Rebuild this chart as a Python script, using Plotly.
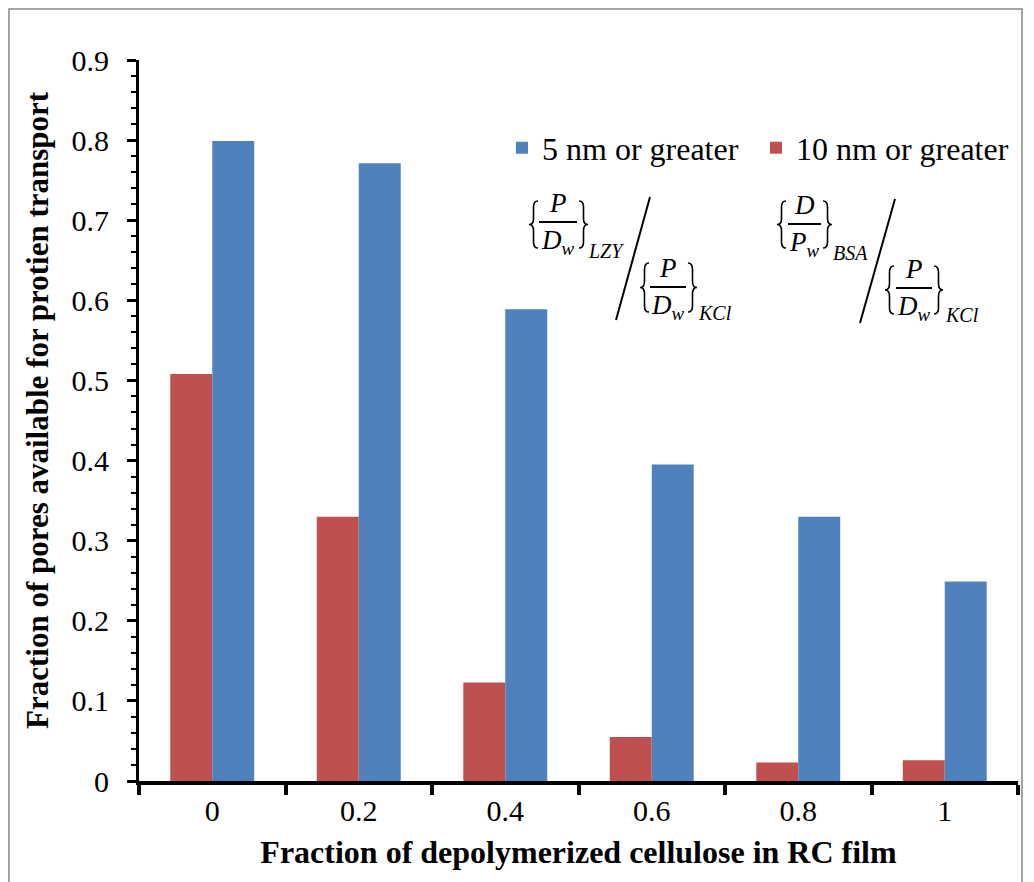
import plotly.graph_objects as go

categories = ["0", "0.2", "0.4", "0.6", "0.8", "1"]
pores_5nm = [0.799, 0.771, 0.589, 0.395, 0.330, 0.249]
pores_10nm = [0.508, 0.330, 0.123, 0.055, 0.023, 0.026]

OFF = 8  # page body margin
W, H = 1034 - OFF, 882 - OFF
L, T = 139 - OFF, 60 - OFF
PW, PH = 1018 - 139, 781 - 60
R, B = W - L - PW, H - T - PH

def px(x):
    return (x - OFF - L) / PW

def py(y):
    return (H - B - (y - OFF)) / PH

fig = go.Figure()
fig.add_trace(go.Bar(x=categories, y=pores_10nm, name="10 nm or greater",
                     marker=dict(color="#C0504D", line=dict(width=0))))
fig.add_trace(go.Bar(x=categories, y=pores_5nm, name="5 nm or greater",
                     marker=dict(color="#4F81BD", line=dict(width=0))))

serif = "Liberation Serif"

fig.update_layout(
    width=W, height=H,
    margin=dict(l=L, r=R, t=T, b=B, autoexpand=False),
    paper_bgcolor="white", plot_bgcolor="white",
    barmode="group", bargap=0.427, bargroupgap=0,
    font=dict(family=serif, size=26, color="black"),
    showlegend=True,
    legend=dict(orientation="h", x=px(502), y=py(148), xanchor="left", yanchor="middle",
                traceorder="reversed", font=dict(size=32, family=serif),
                bgcolor="rgba(0,0,0,0)", itemwidth=30,
                entrywidth=209, entrywidthmode="pixels"),
    xaxis=dict(type="category", showline=True, linewidth=4, linecolor="black",
               ticks="outside", tickson="boundaries", ticklen=10, tickwidth=4, tickcolor="black",
               showgrid=False, zeroline=False, automargin=False,
               tickfont=dict(size=30, family=serif),
               title=dict(text="<b>Fraction of depolymerized cellulose in RC film</b>",
                          font=dict(size=32, family=serif), standoff=16)),
    yaxis=dict(range=[0, 0.9], dtick=0.1, showline=True, linewidth=3, linecolor="black",
               ticks="outside", ticklen=9, tickwidth=3, tickcolor="black",
               minor=dict(dtick=0.02, ticks="outside", ticklen=5, tickwidth=2, tickcolor="black"),
               showgrid=False, zeroline=False, ticklabelstandoff=12, automargin=False,
               tickfont=dict(size=30, family=serif)),
)

# y-axis title (placed as rotated text to match the reference's vertical centring)
fig.add_annotation(x=px(37), y=py(410), xref="paper", yref="paper",
                   xanchor="center", yanchor="middle", showarrow=False, textangle=-90,
                   text="<b>Fraction of pores available for protien transport</b>",
                   font=dict(size=31, family=serif))

# outer border
fig.add_shape(type="rect", xref="paper", yref="paper",
              x0=px(9), x1=px(1022), y0=py(1000), y1=py(9),
              line=dict(color="#888888", width=1.5), fillcolor="rgba(0,0,0,0)", layer="below")

def brace_path(xl, xr, top, bot, left=True):
    xm = (xl + xr) / 2.0
    mid = (top + bot) / 2.0
    d = (bot - top) * 0.13
    tip, end = (xl, xr) if left else (xr, xl)
    pts = [
        ("M", [(end, top)]),
        ("Q", [(xm, top), (xm, top + d)]),
        ("L", [(xm, mid - d)]),
        ("Q", [(xm, mid), (tip, mid)]),
        ("Q", [(xm, mid), (xm, mid + d)]),
        ("L", [(xm, bot - d)]),
        ("Q", [(xm, bot), (end, bot)]),
    ]
    s = ""
    for cmd, pl in pts:
        s += cmd + " " + " ".join("%.5f,%.5f" % (px(a), py(b)) for a, b in pl) + " "
    return s.strip()

mfont = "Liberation Serif"

def frac(xl, top, bot, bar_y, bar_x0, bar_x1, num, den, den_sub, sub, sub_x, sub_y):
    fig.add_shape(type="path", xref="paper", yref="paper",
                  path=brace_path(xl, xl + 9, top, bot, True),
                  line=dict(color="black", width=1.6), fillcolor="rgba(0,0,0,0)")
    fig.add_shape(type="path", xref="paper", yref="paper",
                  path=brace_path(bar_x1 + 2, bar_x1 + 11, top, bot, False),
                  line=dict(color="black", width=1.6), fillcolor="rgba(0,0,0,0)")
    fig.add_shape(type="line", xref="paper", yref="paper",
                  x0=px(bar_x0), x1=px(bar_x1), y0=py(bar_y), y1=py(bar_y),
                  line=dict(color="black", width=2))
    cx = (bar_x0 + bar_x1) / 2.0
    fig.add_annotation(x=px(cx), y=py(bar_y - 2), xref="paper", yref="paper",
                       xanchor="center", yanchor="bottom", showarrow=False,
                       text="<i>%s</i>" % num, font=dict(size=27, family=mfont))
    fig.add_annotation(x=px(cx), y=py(bar_y + 1), xref="paper", yref="paper",
                       xanchor="center", yanchor="top", showarrow=False,
                       text="<i>%s</i><sub><i>%s</i></sub>" % (den, den_sub),
                       font=dict(size=27, family=mfont))
    fig.add_annotation(x=px(sub_x), y=py(sub_y), xref="paper", yref="paper",
                       xanchor="left", yanchor="middle", showarrow=False,
                       text="<i>%s</i>" % sub, font=dict(size=20, family=mfont))

frac(529, 201, 248, 222, 539, 577, "P", "D", "w", "LZY", 586, 251)
frac(640, 263, 312, 287, 650, 686, "P", "D", "w", "KCl", 696, 313)
frac(777, 201, 248, 224, 788, 821, "D", "P", "w", "BSA", 831, 253)
frac(885, 266, 314, 288, 896, 932, "P", "D", "w", "KCl", 943, 315)

for (xa, ya, xb, yb) in [(616, 320, 650, 197), (860, 323, 895, 199)]:
    fig.add_shape(type="line", xref="paper", yref="paper",
                  x0=px(xa), y0=py(ya), x1=px(xb), y1=py(yb),
                  line=dict(color="black", width=2))

fig.write_html("out.html")
